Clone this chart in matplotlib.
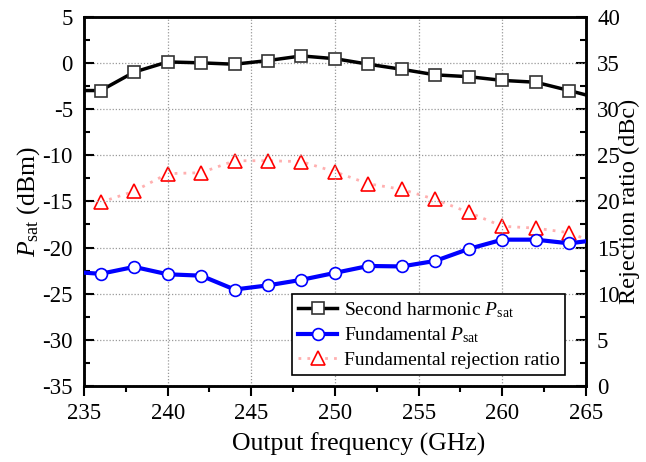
import matplotlib
matplotlib.use("Agg")
import matplotlib.pyplot as plt
from matplotlib.ticker import MultipleLocator

plt.rcParams['font.family'] = ['Liberation Serif', 'DejaVu Serif']
plt.rcParams['mathtext.fontset'] = 'custom'
plt.rcParams['mathtext.rm'] = 'Liberation Serif'
plt.rcParams['mathtext.it'] = 'Liberation Serif:italic'
plt.rcParams['axes.unicode_minus'] = False

freq = [234, 236, 238, 240, 242, 244, 246, 248, 250, 252, 254, 256, 258, 260, 262, 264, 266]
second_harmonic = [-3.0, -3.0, -1.0, 0.1, 0.0, -0.15, 0.25, 0.75, 0.45, -0.15, -0.7, -1.3, -1.5, -1.9, -2.1, -3.0, -3.95]
fundamental = [-22.6, -22.85, -22.1, -22.9, -23.05, -24.55, -24.1, -23.5, -22.75, -22.0, -22.05, -21.45, -20.15, -19.15, -19.15, -19.55, -19.1]
rejection = [None, 19.9, 21.1, 23.0, 23.1, 24.4, 24.4, 24.3, 23.2, 21.9, 21.3, 20.2, 18.8, 17.3, 17.1, 16.6, 15.2]

fig = plt.figure(figsize=(6.46, 4.62), dpi=100)
ax = fig.add_axes([0.130, 0.1645, 0.777, 0.7994])
ax2 = ax.twinx()

l1, = ax.plot(freq, second_harmonic, color='black', lw=2.5, marker='s', ms=8,
              mfc='white', mec='#333333', mew=1.2, zorder=3)
l2, = ax.plot(freq, fundamental, color='#0000ff', lw=3, marker='o', ms=8.5,
              mfc='white', mec='#0000ff', mew=1.2, zorder=3)
rf = [f for f, r in zip(freq, rejection) if r is not None]
rv = [r for r in rejection if r is not None]
ax2.plot(rf, rv, color='#ffb0b0', lw=2, ls=(0, (1, 2.2)), zorder=2)
ax2.plot(rf, rv, ls='none', marker='^', ms=10, mfc='white', mec='#ff0000', mew=1.2, zorder=3)
l3, = ax.plot([], [], color='#ffb0b0', lw=2, ls=(0, (1, 2.2)), marker='^', ms=10,
              mfc='white', mec='#ff0000', mew=1.2)

ax.set_xlim(235, 265)
ax.set_ylim(-35, 5)
ax2.set_ylim(0, 40)

ax.xaxis.set_major_locator(MultipleLocator(5))
ax.xaxis.set_minor_locator(MultipleLocator(2.5))
ax.yaxis.set_major_locator(MultipleLocator(5))
ax.yaxis.set_minor_locator(MultipleLocator(2.5))
ax2.yaxis.set_major_locator(MultipleLocator(5))
ax2.yaxis.set_minor_locator(MultipleLocator(2.5))

ax.tick_params(axis='x', which='major', direction='out', length=7, width=1.5, labelsize=16.5, pad=5)
ax.tick_params(axis='x', which='minor', direction='out', length=4, width=1.5)
ax.tick_params(axis='y', which='major', direction='in', length=7, width=1.5, labelsize=16.5, pad=8)
ax.tick_params(axis='y', which='minor', direction='in', length=4, width=1.5)
ax2.tick_params(axis='y', which='major', direction='in', length=7, width=1.5, labelsize=16.5, pad=8)
ax2.tick_params(axis='y', which='minor', direction='in', length=4, width=1.5)

for a in (ax, ax2):
    for s in a.spines.values():
        s.set_linewidth(1.8)

ax.grid(True, which='major', color='#999999', ls=(0, (1, 1.5)), lw=0.9)
ax.set_axisbelow(True)

ax.set_xlabel('Output frequency (GHz)', fontsize=18.5)
ax.xaxis.set_label_coords(0.548, -0.125)
ax.set_ylabel(r'$P_{\mathrm{sat}}$ (dBm)', fontsize=18.5, labelpad=0)
fig.text(0.975, 0.565, 'Rejection ratio (dBc)', fontsize=17.5, rotation=90,
         ha='center', va='center')

ax.set_zorder(ax2.get_zorder() + 1)
ax.patch.set_visible(False)

leg = ax.legend([l1, l2, l3],
                [r'Second harmonic $P_{\mathrm{sat}}$', r'Fundamental $P_{\mathrm{sat}}$',
                 'Fundamental rejection ratio'],
                loc='lower right', bbox_to_anchor=(0.967, 0.02), fontsize=14,
                frameon=True, fancybox=False, edgecolor='black', framealpha=1,
                handlelength=2.0, handletextpad=0.35, borderpad=0.3, labelspacing=0.3,
                borderaxespad=0.2)
leg.get_frame().set_linewidth(1.2)

fig.savefig('out.png', dpi=100)
